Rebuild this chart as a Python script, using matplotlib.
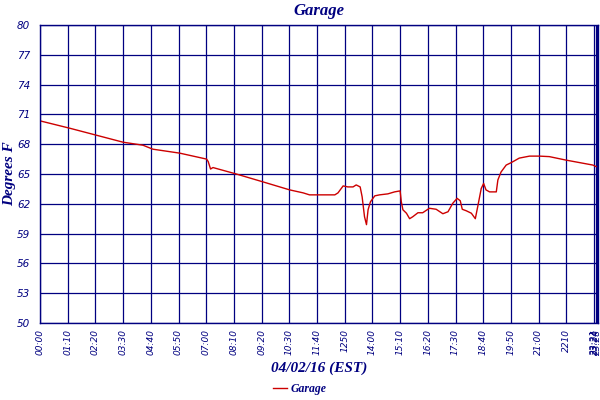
import matplotlib
matplotlib.use("Agg")
import matplotlib.pyplot as plt

# minutes since midnight, temperature in deg F
minutes = [0, 76, 143, 210, 260, 285, 353, 421, 425, 431, 437, 496, 564, 631,
           665, 681, 745, 753, 766, 778, 791, 799, 809, 814, 820, 825, 829,
           835, 846, 858, 879, 896, 910, 913, 917, 926, 934, 942, 955, 967,
           984, 1001, 1018, 1031, 1043, 1054, 1062, 1067, 1077, 1090, 1100,
           1106, 1115, 1121, 1127, 1136, 1153, 1157, 1165, 1178, 1191, 1211,
           1237, 1262, 1287, 1329, 1363, 1397, 1405]
temps = [70.35, 69.6, 68.9, 68.2, 67.9, 67.5, 67.1, 66.5, 66.25, 65.5, 65.65,
         65.0, 64.2, 63.4, 63.1, 62.9, 62.9, 63.1, 63.8, 63.7, 63.7, 63.9,
         63.7, 62.7, 60.7, 59.9, 61.4, 62.2, 62.8, 62.9, 63.0, 63.2, 63.3,
         62.2, 61.4, 61.05, 60.5, 60.7, 61.1, 61.1, 61.55, 61.45, 61.0, 61.2,
         62.05, 62.55, 62.3, 61.45, 61.3, 61.05, 60.5, 61.7, 63.55, 64.05,
         63.4, 63.2, 63.2, 64.4, 65.2, 65.9, 66.15, 66.6, 66.8, 66.8, 66.75,
         66.4, 66.15, 65.9, 65.75]

y_ticks = [50, 53, 56, 59, 62, 65, 68, 71, 74, 77, 80]
x_ticks = [0, 70, 140, 210, 280, 350, 420, 490, 560, 630, 700, 770, 840,
           910, 980, 1050, 1120, 1190, 1260, 1330, 1401, 1404, 1408]
x_labels = ["00:00", "01:10", "02:20", "03:30", "04:40", "05:50", "07:00",
            "08:10", "09:20", "10:30", "11:40", "1250", "14:00", "15:10",
            "16:20", "17:30", "18:40", "19:50", "21:00", "2210",
            "23:21", "23:24", "23:28"]

navy = "#000080"
red = "#CC0000"
serif = "Liberation Serif"

fig = plt.figure(figsize=(6, 4), dpi=100)
ax = fig.add_axes([40 / 600, 1 - 323 / 400, 558 / 600, 298 / 400])

ax.plot(minutes, temps, color=red, linewidth=1.0, label="Garage")

ax.set_xlim(0, 1410)
ax.set_ylim(50, 80)
ax.set_yticks(y_ticks)
ax.set_yticklabels([str(v) for v in y_ticks], fontstyle="italic",
                   fontsize=7.5, color=navy)
ax.set_xticks(x_ticks)
ax.set_xticklabels(x_labels, rotation=90, fontstyle="italic",
                   fontsize=6.5, color=navy)
ax.tick_params(length=0, pad=4)
ax.tick_params(axis="y", pad=7)

ax.grid(True, color=navy, linewidth=0.9)
ax.set_axisbelow(True)
for s in ax.spines.values():
    s.set_color(navy)
    s.set_linewidth(1.0)

ax.set_title("Garage", fontfamily=serif, fontstyle="italic",
             fontweight="bold", fontsize=12, color=navy, pad=7)
ax.set_ylabel("Degrees F", fontfamily=serif, fontstyle="italic",
              fontweight="bold", fontsize=11, color=navy, va="center")
ax.yaxis.set_label_coords(-0.054, 0.5)
ax.set_xlabel("04/02/16 (EST)", fontfamily=serif, fontstyle="italic",
              fontweight="bold", fontsize=11, color=navy, labelpad=5)

fig.legend(loc="lower center", bbox_to_anchor=(0.5, -0.015), frameon=False,
           handlelength=1.2, handletextpad=0.3,
           prop={"family": serif, "style": "italic", "weight": "bold",
                 "size": 8.5},
           labelcolor=navy)

fig.savefig("out.png", dpi=100)
